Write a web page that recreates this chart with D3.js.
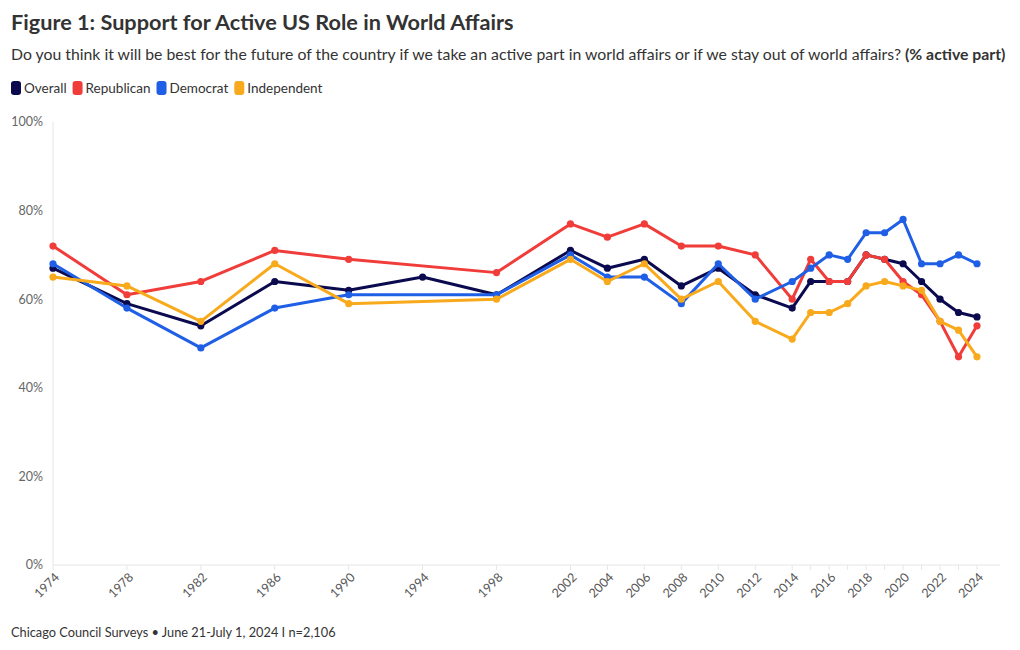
<!DOCTYPE html>
<html>
<head>
<meta charset="utf-8">
<script src="https://cdn.jsdelivr.net/npm/d3@7"></script>
<style>
  body { margin: 0; background: #fff; }
  text { font-family: "Source Sans Pro", Lato, "Noto Sans", sans-serif; }
</style>
</head>
<body>
<div id="chart"></div>
<script>

// survey years
const years = [1974, 1978, 1982, 1986, 1990, 1994, 1998, 2002, 2004, 2006, 2008, 2010, 2012, 2014,
    2015, 2016, 2017, 2018, 2019, 2020, 2021, 2022, 2023, 2024];

// % saying "active part" (null = not asked for that group)
const overall     = [67, 59, 54, 64, 62, 65, 61, 71, 67, 69, 63, 67, 61, 58, 64, 64, 64, 70, 69, 68, 64, 60, 57, 56];
const republican  = [72, 61, 64, 71, 69, null, 66, 77, 74, 77, 72, 72, 70, 60, 69, 64, 64, 70, 69, 64, 61, 55, 47, 54];
const democrat    = [68, 58, 49, 58, 61, null, 61, 70, 65, 65, 59, 68, 60, 64, 67, 70, 69, 75, 75, 78, 68, 68, 70, 68];
const independent = [65, 63, 55, 68, 59, null, 60, 69, 64, 68, 60, 64, 55, 51, 57, 57, 59, 63, 64, 63, 62, 55, 53, 47];

const seriesNames = ["Overall", "Republican", "Democrat", "Independent"];
const seriesColors = ["#0b0a4f", "#f03d3a", "#1f5fe6", "#f8aa1c"];

const xTickYears = [1974, 1978, 1982, 1986, 1990, 1994, 1998, 2002, 2004, 2006, 2008, 2010, 2012, 2014,
    2016, 2018, 2020, 2022, 2024];
const yTicks = [0, 20, 40, 60, 80, 100];

var width = 1020, height = 650, svg, x, y;

function init() {
    svg = d3.select("#chart").append("svg")
        .attr("width", width)
        .attr("height", height);

    x = d3.scaleLinear().domain([1974, 2024]).range([53, 977]);
    y = d3.scaleLinear().domain([0, 100]).range([565, 122]);

    drawHeader();
    drawAxes();
    drawLines();
    drawFooter();
}

// shrink/grow font so the text spans roughly the wanted width
function fitText(sel, size, wanted) {
    sel.attr("font-size", size);
    let w = sel.node().getComputedTextLength();
    sel.attr("font-size", size * wanted / w);
}

function drawHeader() {
    let title = svg.append("text")
        .attr("x", 11).attr("y", 30)
        .attr("font-weight", 700)
        .attr("fill", "#333")
        .text("Figure 1: Support for Active US Role in World Affairs");
    fitText(title, 22, 503);

    let sub = svg.append("text")
        .attr("x", 11).attr("y", 60)
        .attr("fill", "#333");
    sub.append("tspan").text("Do you think it will be best for the future of the country if we take an active part in world affairs or if we stay out of world affairs? ");
    sub.append("tspan").attr("font-weight", 700).text("(% active part)");
    fitText(sub, 16, 995);

    // legend
    let lx = 11;
    seriesNames.forEach((name, i) => {
        svg.append("rect")
            .attr("x", lx).attr("y", 81)
            .attr("width", 10).attr("height", 14).attr("rx", 3)
            .attr("fill", seriesColors[i]);
        let t = svg.append("text")
            .attr("x", lx + 13).attr("y", 93)
            .attr("font-size", 13.5).attr("fill", "#333")
            .text(name);
        lx += 13 + t.node().getComputedTextLength() + 6;
    });
}

function drawAxes() {
    // left axis line
    svg.append("line")
        .attr("x1", 53).attr("x2", 53)
        .attr("y1", y(100)).attr("y2", y(0))
        .attr("stroke", "#e6e6e6");

    // baseline
    svg.append("line")
        .attr("x1", 53).attr("x2", 1000)
        .attr("y1", y(0)).attr("y2", y(0))
        .attr("stroke", "#e6e6e6");

    svg.selectAll(".ylab")
        .data(yTicks)
        .join("text")
        .attr("class", "ylab")
        .attr("x", 43)
        .attr("y", d => y(d))
        .attr("dy", "0.35em")
        .attr("text-anchor", "end")
        .attr("font-size", 12.5)
        .attr("fill", "#666")
        .text(d => d + "%");

    // tick marks at every survey year
    svg.selectAll(".xtick")
        .data(years)
        .join("line")
        .attr("class", "xtick")
        .attr("x1", d => x(d)).attr("x2", d => x(d))
        .attr("y1", y(0)).attr("y2", y(0) + 5)
        .attr("stroke", "#e6e6e6");

    svg.selectAll(".xlab")
        .data(xTickYears)
        .join("text")
        .attr("class", "xlab")
        .attr("transform", d => `translate(${x(d) + 4},${y(0) + 10}) rotate(-45)`)
        .attr("text-anchor", "end")
        .attr("dy", "0.35em")
        .attr("font-size", 12.5)
        .attr("fill", "#555")
        .text(d => d);
}

function drawLines() {
    let allSeries = [overall, republican, democrat, independent];

    let line = d3.line()
        .x(d => x(d.year))
        .y(d => y(d.value));

    allSeries.forEach((values, i) => {
        let pts = years.map((yr, j) => ({ year: yr, value: values[j] }))
            .filter(d => d.value != null);   // skip years not asked

        let g = svg.append("g").attr("class", "series");

        g.append("path")
            .datum(pts)
            .attr("d", line)
            .attr("fill", "none")
            .attr("stroke", seriesColors[i])
            .attr("stroke-width", 3)
            .attr("stroke-linejoin", "round");

        g.selectAll("circle")
            .data(pts)
            .join("circle")
            .attr("cx", d => x(d.year))
            .attr("cy", d => y(d.value))
            .attr("r", 3.6)
            .attr("fill", seriesColors[i]);
    });
}

function drawFooter() {
    let foot = svg.append("text")
        .attr("x", 11).attr("y", 637)
        .attr("fill", "#333")
        .text("Chicago Council Surveys \u2022 June 21-July 1, 2024 I n=2,106");
    fitText(foot, 13.5, 325);
}

window.onload = init();
</script>
</body>
</html>
